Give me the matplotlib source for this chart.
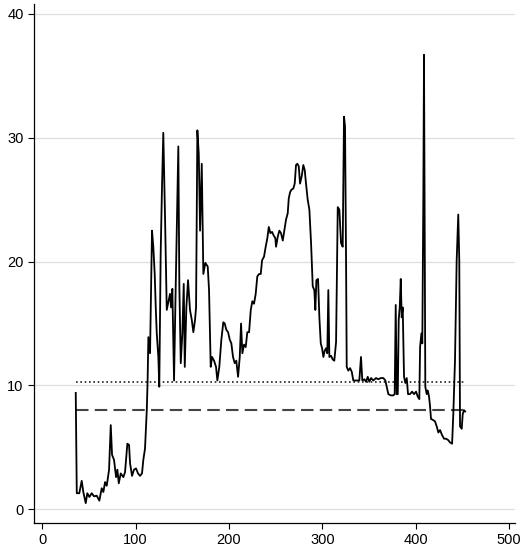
import numpy as np
import matplotlib
matplotlib.use("Agg")
import matplotlib.pyplot as plt

# series
x = [35.8, 36.9, 39.6, 42.2, 43.9, 46.5, 48.2, 50.4, 52.9, 55.4, 58.3, 61.1, 63.6, 65.4,
     67.2, 69.0, 71.5, 73.3, 74.7, 76.8, 79.0, 80.4, 81.9, 84.0, 86.8, 88.6, 91.1, 92.9,
     94.0, 96.1, 98.2, 100.4, 102.5, 104.7, 106.8, 108.2, 110.0, 111.9, 112.8, 113.6, 115.4,
     117.5, 118.9, 120.4, 121.5, 122.6, 124.3, 125.3, 126.8, 128.2, 129.6, 131.5, 133.3,
     135.4, 136.8, 137.9, 139.3, 141.1, 142.9, 145.7, 146.8, 148.3, 150.0, 151.5, 152.6,
     154.3, 156.1, 158.2, 160.1, 161.8, 163.6, 164.7, 166.1, 167.6, 169.0, 170.8, 172.5,
     174.6, 177.2, 178.6, 180.4, 181.8, 184.0, 186.1, 187.5, 189.6, 191.8, 193.9, 195.4,
     197.1, 199.0, 200.8, 202.5, 204.3, 206.1, 207.8, 209.7, 211.5, 212.9, 214.3, 216.1,
     217.9, 219.6, 221.5, 223.3, 225.0, 226.8, 228.6, 230.3, 232.2, 234.0, 235.4, 237.5,
     239.3, 241.1, 242.6, 244.3, 246.1, 247.9, 249.6, 250.4, 252.2, 253.9, 255.7, 257.6,
     259.3, 261.1, 262.9, 264.0, 265.4, 266.8, 268.9, 270.4, 271.8, 273.2, 274.7, 276.1,
     277.9, 279.6, 281.1, 282.5, 284.3, 286.1, 287.9, 289.7, 291.4, 292.5, 293.6, 295.4,
     296.8, 298.3, 299.7, 301.1, 302.5, 303.9, 305.3, 306.4, 307.5, 309.3, 311.1, 312.8,
     314.7, 316.5, 318.2, 320.0, 321.8, 323.2, 324.3, 325.4, 326.1, 327.8, 329.7, 331.5,
     333.2, 336.8, 339.6, 341.4, 342.8, 345.0, 346.8, 348.6, 350.3, 352.2, 354.6, 357.5,
     360.0, 362.5, 365.3, 367.5, 369.0, 370.7, 373.3, 376.0, 377.5, 378.6, 379.7, 380.8,
     381.8, 382.9, 384.0, 385.0, 386.1, 387.5, 388.9, 390.4, 391.8, 393.9, 396.1, 398.2,
     400.4, 402.2, 403.9, 404.7, 406.1, 407.1, 408.2, 408.9, 410.3, 411.8, 412.9, 414.3,
     415.4, 416.4, 418.9, 420.7, 422.5, 424.3, 426.1, 428.2, 430.4, 432.5, 434.7, 436.8,
     439.0, 440.3, 442.1, 443.9, 445.6, 446.7, 447.5, 449.3, 450.4, 451.9, 453.0]
y = [9.4, 1.3, 1.3, 2.3, 1.4, 0.5, 1.3, 1.0, 1.3, 1.05, 1.1, 0.7, 1.7, 1.4,
     2.2, 1.9, 3.2, 6.8, 4.4, 4.0, 2.6, 3.2, 2.1, 2.9, 2.6, 3.0, 5.3, 5.2,
     3.7, 2.7, 3.2, 3.3, 2.9, 2.7, 2.9, 4.0, 4.9, 8.0, 10.4, 13.9, 12.6,
     22.5, 21.2, 19.0, 16.3, 14.2, 12.3, 9.9, 20.7, 26.0, 30.4, 23.4, 16.1,
     16.9, 17.4, 16.3, 17.8, 10.4, 18.0, 29.3, 18.0, 11.8, 14.2, 18.2, 11.5,
     16.3, 18.5, 16.1, 15.3, 14.3, 15.3, 16.3, 30.6, 28.7, 22.5, 27.9, 19.0,
     19.9, 19.6, 17.7, 11.5, 12.3, 12.0, 11.5, 10.4, 11.5, 13.7, 15.1, 15.0,
     14.5, 14.3, 13.7, 13.4, 12.3, 11.8, 12.0, 10.7, 12.3, 15.0, 12.6, 13.3,
     13.1, 14.3, 14.3, 16.1, 16.8, 16.6, 17.4, 18.8, 19.0, 19.0, 20.1, 20.4,
     21.2, 21.9, 22.8, 22.3, 22.4, 22.1, 21.9, 21.2, 22.0, 22.5, 22.3, 21.7,
     22.5, 23.4, 23.9, 25.1, 25.6, 25.8, 25.9, 26.3, 27.8, 27.9, 27.7, 26.3,
     26.9, 27.8, 27.4, 26.3, 25.0, 24.2, 21.5, 18.0, 17.7, 16.1, 18.5, 18.6,
     15.5, 13.4, 13.0, 12.3, 12.8, 13.0, 12.6, 17.7, 12.3, 12.4, 12.1, 12.0,
     13.5, 24.4, 24.2, 21.5, 21.2, 31.7, 30.9, 20.1, 11.5, 11.2, 11.4, 11.1,
     10.4, 10.4, 10.4, 12.3, 10.4, 10.5, 10.3, 10.7, 10.3, 10.6, 10.4, 10.6,
     10.5, 10.6, 10.6, 10.4, 9.9, 9.3, 9.2, 9.2, 9.3, 16.5, 9.3, 9.3,
     15.3, 16.3, 18.6, 15.5, 16.3, 10.7, 10.2, 10.6, 9.3, 9.3, 9.5, 9.3,
     9.5, 9.1, 8.9, 13.1, 14.2, 13.4, 25.5, 36.7, 9.9, 9.3, 9.6, 9.1,
     8.3, 7.3, 7.2, 7.1, 6.7, 6.2, 6.4, 6.0, 5.7, 5.7, 5.6, 5.4,
     5.3, 7.7, 12.0, 20.1, 23.8, 20.1, 6.7, 6.5, 7.7, 8.0, 7.9]

dotted_level = 10.27
dashed_level = 8.0

xticks = [0, 100, 200, 300, 400, 500]
yticks = [0, 10, 20, 30, 40]

plt.rcParams['font.family'] = ['Liberation Sans Narrow', 'Liberation Sans', 'DejaVu Sans']

fig = plt.figure(figsize=(5.21, 5.55), dpi=100)
ax = fig.add_axes([0.0653, 0.0582, 0.9232, 0.9346])

ax.plot(x, y, color='black', lw=1.3, zorder=3)
ax.hlines(dotted_level, x[0], x[-1] + 1, colors='#222222', lw=1.2,
          linestyles=(0, (1, 1.6)), zorder=2)
ax.hlines(dashed_level, x[0], x[-1] + 1, colors='#444444', lw=1.5,
          linestyles=(0, (6, 3)), zorder=2)

ax.set_xlim(-8.9, 506.4)
ax.set_ylim(-1.08, 40.8)
ax.set_xticks(xticks)
ax.set_yticks(yticks)
ax.grid(axis='y', color='#dedede', lw=0.9)
ax.set_axisbelow(True)

for s in ['top', 'right']:
    ax.spines[s].set_visible(False)
for s in ['left', 'bottom']:
    ax.spines[s].set_linewidth(0.9)
ax.tick_params(direction='out', length=4.5, width=0.8, labelsize=10.5, pad=3)

fig.savefig('out.png', dpi=100)
